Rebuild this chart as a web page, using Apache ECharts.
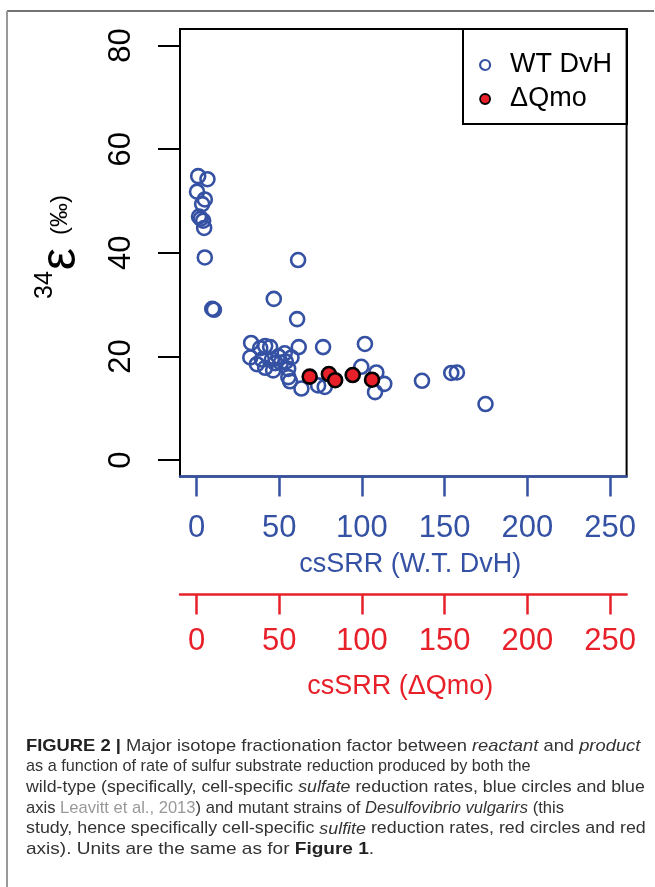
<!DOCTYPE html>
<html>
<head>
<meta charset="utf-8">
<script src="https://cdn.jsdelivr.net/npm/echarts@6/dist/echarts.min.js"></script>
<style>
html, body { margin: 0; padding: 0; background: #fff; }
#chart { width: 655px; height: 887px; }
</style>
</head>
<body>
<div id="chart"></div>
<script>
// wild type DvH (blue axis)
const wtRate = [1.0, 6.6, 0.3, 5.0, 3.4, 1.5, 2.6, 4.0, 4.6, 5.0, 9.5, 10.5, 46.7, 60.8, 61.4,
    33.0, 32.5, 36.5, 38.5, 39.5, 41.5, 41.5, 44.5, 45.5, 46.3, 47.5, 49.5, 51.0, 53.3, 54.0,
    55.4, 55.5, 56.5, 57.4, 61.8, 63.4, 73.5, 76.5, 77.5,
    99.6, 101.8, 108.7, 113.5, 107.9, 136.3, 154.0, 157.4, 174.7];
const wtEpsilon = [54.8, 54.2, 51.8, 50.3, 49.4, 47.0, 46.6, 46.2, 44.8, 39.1, 29.2, 29.0, 31.1, 27.2, 38.6,
    22.6, 19.8, 18.5, 21.6, 19.4, 22.0, 17.8, 21.8, 19.4, 17.3, 18.7, 20.0, 18.8, 20.6, 19.0,
    17.6, 16.0, 15.2, 19.8, 21.8, 13.8, 14.4, 21.8, 14.1,
    18.0, 22.4, 16.9, 14.7, 13.1, 15.3, 16.8, 16.9, 10.8];
// mutant dQmo (red axis)
const qmoRate = [68.4, 80.0, 83.8, 94.4, 106.1];
const qmoEpsilon = [16.1, 16.6, 15.4, 16.4, 15.5];
const xTicks = [0, 50, 100, 150, 200, 250];
const yTicks = [0, 20, 40, 60, 80];

const blue = '#3551a3';
const red = '#e8202a';
const font = '"Liberation Sans", Arial, sans-serif';

const chart = echarts.init(document.getElementById('chart'));

function rateAxis(color, offset, name, margin, nameGap, namePadding) {
    return {
        type: 'value', position: 'bottom', offset: offset, min: -10, max: 260,
        name: name, nameLocation: 'middle', nameGap: nameGap,
        nameTextStyle: { color: color, fontSize: 27, fontFamily: font, padding: namePadding },
        axisLine: { show: true, onZero: false, lineStyle: { color: color, width: 2.5 } },
        axisTick: { show: true, length: 20, customValues: xTicks, lineStyle: { color: color, width: 2.5 } },
        axisLabel: { customValues: xTicks, color: color, fontSize: 31, fontFamily: font, margin: margin },
        splitLine: { show: false }
    };
}

const caption = [
    '{b|FIGURE 2 |} Major isotope fractionation factor between {i|reactant} and {i|product}',
    'as a function of rate of sulfur substrate reduction produced by both the',
    'wild-type (specifically, cell-specific {i|sulfate} reduction rates, blue circles and blue',
    'axis {g|Leavitt et al., 2013}) and mutant strains of {i|Desulfovibrio vulgarirs} (this',
    'study, hence specifically cell-specific {i|sulfite} reduction rates, red circles and red',
    'axis). Units are the same as for {b|Figure 1}.'
];
// horizontal stretch of each caption line to follow the original line lengths
const captionStretch = [1.08, 0.955, 1.045, 0.975, 1.05, 1.12];
const capStyle = { fontSize: 17, fontFamily: font, fill: '#333' };

const graphics = [
    // figure frame
    { type: 'line', shape: { x1: 7, y1: 11, x2: 654, y2: 11 }, style: { stroke: '#444', lineWidth: 1.5 } },
    { type: 'line', shape: { x1: 7, y1: 11, x2: 7, y2: 887 }, style: { stroke: '#999', lineWidth: 2 } },
    // legend box
    { type: 'rect', shape: { x: 463, y: 29, width: 164, height: 95 }, style: { fill: 'none', stroke: '#000', lineWidth: 2 }, z: 10 },
    // y axis title
    { type: 'text', x: 45, y: 285, rotation: Math.PI / 2, style: { text: '34', fontSize: 25, fontFamily: font, fill: '#000', textAlign: 'center', textVerticalAlign: 'middle' } },
    { type: 'text', x: 61, y: 259, rotation: Math.PI / 2, style: { text: 'ε', fontSize: 50, fontFamily: font, fill: '#000', textAlign: 'center', textVerticalAlign: 'middle' } },
    { type: 'text', x: 60, y: 215, rotation: Math.PI / 2, style: { text: '(‰)', fontSize: 24, fontFamily: font, fill: '#000', textAlign: 'center', textVerticalAlign: 'middle' } }
];
caption.forEach(function (line, i) {
    graphics.push({
        type: 'text', x: 26, y: 746 + i * 20.7, scaleX: captionStretch[i],
        style: Object.assign({}, capStyle, {
            text: line, textAlign: 'left', textVerticalAlign: 'middle',
            rich: {
                b: Object.assign({}, capStyle, { fontWeight: 'bold', fill: '#222' }),
                i: Object.assign({}, capStyle, { fontStyle: 'italic' }),
                g: Object.assign({}, capStyle, { fill: '#999' })
            }
        })
    });
});

const options = {
    animation: false,
    backgroundColor: '#fff',
    textStyle: { fontFamily: font },
    grid: {
        left: 180, top: 29, right: 28.4, bottom: 410.4,
        show: true, borderColor: '#000', borderWidth: 2,
        outerBoundsMode: 'none'
    },
    legend: {
        orient: 'vertical', left: 479, top: 50, padding: 0, itemGap: 4,
        itemWidth: 10, itemHeight: 10, icon: 'circle', selectedMode: false,
        textStyle: { fontSize: 27, color: '#000', fontFamily: font, lineHeight: 30, padding: [0, 0, 0, 15] },
        data: [
            { name: 'WT DvH', itemStyle: { color: '#fff', borderColor: blue, borderWidth: 2.2 } },
            { name: 'ΔQmo', itemStyle: { color: red, borderColor: '#000', borderWidth: 1.8 } }
        ]
    },
    xAxis: [
        rateAxis(blue, 0, 'csSRR (W.T. DvH)', 36, 74, [0, 0, 0, 14]),
        rateAxis(red, 118, 'csSRR (ΔQmo)', 31, 78, [0, 6, 0, 0])
    ],
    yAxis: {
        type: 'value', min: -3.2, max: 83.2,
        axisLine: { show: true, onZero: false, lineStyle: { color: '#000', width: 2 } },
        axisTick: { show: true, length: 22, customValues: yTicks, lineStyle: { color: '#000', width: 2 } },
        axisLabel: { customValues: yTicks, rotate: 90, fontSize: 31, color: '#000', fontFamily: font, margin: 43 },
        splitLine: { show: false }
    },
    series: [
        {
            type: 'scatter', name: 'WT DvH', xAxisIndex: 0,
            data: wtRate.map((x, i) => [x, wtEpsilon[i]]),
            symbol: 'circle', symbolSize: 14,
            itemStyle: { color: 'rgba(255,255,255,0)', borderColor: blue, borderWidth: 2.6, opacity: 1 },
            emphasis: { disabled: true }
        },
        {
            type: 'scatter', name: 'ΔQmo', xAxisIndex: 1, z: 5,
            data: qmoRate.map((x, i) => [x, qmoEpsilon[i]]),
            symbol: 'circle', symbolSize: 14,
            itemStyle: { color: red, borderColor: '#000', borderWidth: 2.6, opacity: 1 },
            emphasis: { disabled: true }
        }
    ],
    graphic: graphics
};
chart.setOption(options);
</script>
</body>
</html>
